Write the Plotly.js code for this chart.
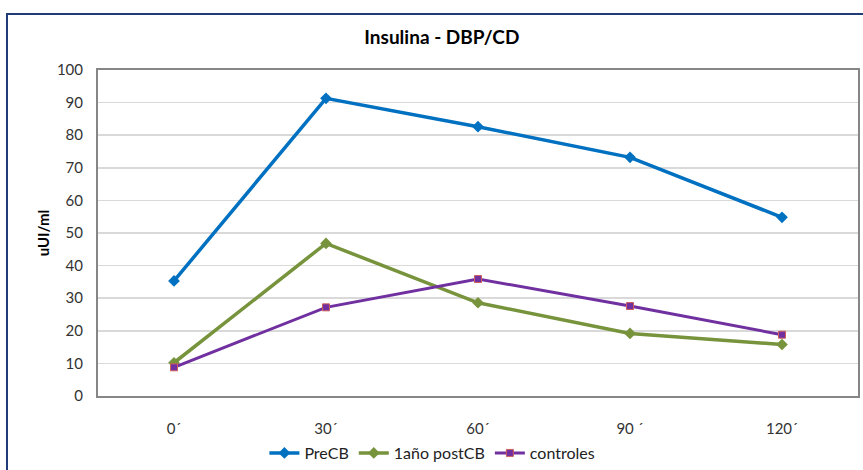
<!DOCTYPE html>
<html>
<head>
<meta charset="utf-8">
<script src="https://cdn.plot.ly/plotly-3.0.1.min.js"></script>
<style>
html,body{margin:0;padding:0;background:#fff;overflow:hidden;}
#frame{position:absolute;left:6px;top:13px;width:900px;height:500px;border:2px solid #1F3C78;box-sizing:border-box;pointer-events:none;z-index:5;}
#chart{position:absolute;left:0;top:0;width:863px;height:470px;}
</style>
</head>
<body>
<div id="chart"></div>
<div id="frame"></div>
<script>
const categories = ["0´", "30´", "60´", "90 ´", "120´"];
const preCB = [35.3, 91.3, 82.6, 73.2, 54.8];
const postCB = [10.2, 46.8, 28.6, 19.2, 15.8];
const controles = [8.8, 27.2, 35.9, 27.6, 18.8];
const yTicks = [0, 10, 20, 30, 40, 50, 60, 70, 80, 90, 100];

const font = "Lato, 'Open Sans', sans-serif";

const traces = [
  {x: categories, y: preCB, name: "PreCB", type: "scatter", mode: "lines+markers",
   line: {color: "#0070C0", width: 3.5}, marker: {symbol: "diamond", size: 9, color: "#0070C0"}},
  {x: categories, y: postCB, name: "1año postCB", type: "scatter", mode: "lines+markers",
   line: {color: "#77933C", width: 3.5}, marker: {symbol: "diamond", size: 9, color: "#77933C"}},
  {x: categories, y: controles, name: "controles", type: "scatter", mode: "lines+markers",
   line: {color: "#7030A0", width: 3}, marker: {symbol: "square", size: 7, color: "#7030A0", line: {color: "#D0605D", width: 1}}}
];

const layout = {
  width: 863, height: 470,
  margin: {l: 98, r: 5, t: 70, b: 74, autoexpand: false},
  paper_bgcolor: "rgba(0,0,0,0)", plot_bgcolor: "#fff",
  font: {family: font, color: "#333"},
  title: {text: "<b>Insulina - DBP/CD</b>", font: {family: font, size: 19, color: "#000"}, x: 0.512, xanchor: "center", y: 0.92, yanchor: "middle"},
  showlegend: true,
  legend: {orientation: "h", x: 0.44, xanchor: "center", y: -0.175, yanchor: "middle",
           font: {family: font, size: 16, color: "#222"}, tracegroupgap: 0},
  xaxis: {type: "category", range: [-0.5, 4.5], showgrid: false, zeroline: false, automargin: false,
          showline: true, linecolor: "#868686", linewidth: 2, mirror: true,
          ticks: "", ticklabelstandoff: 18, tickfont: {family: font, size: 15, color: "#333"}, fixedrange: true},
  yaxis: {range: [0, 100], tickvals: yTicks, showgrid: true, gridcolor: "#D9D9D9", gridwidth: 1.5, automargin: false,
          zeroline: false, showline: true, linecolor: "#868686", linewidth: 2, mirror: true,
          ticks: "", ticklabelstandoff: 10, tickfont: {family: font, size: 15, color: "#333"},
          title: {text: "<b>uUI/ml</b>", font: {family: font, size: 15, color: "#000"}, standoff: 4}, fixedrange: true}
};

Plotly.newPlot("chart", traces, layout, {displayModeBar: false, staticPlot: true});
</script>
</body>
</html>
